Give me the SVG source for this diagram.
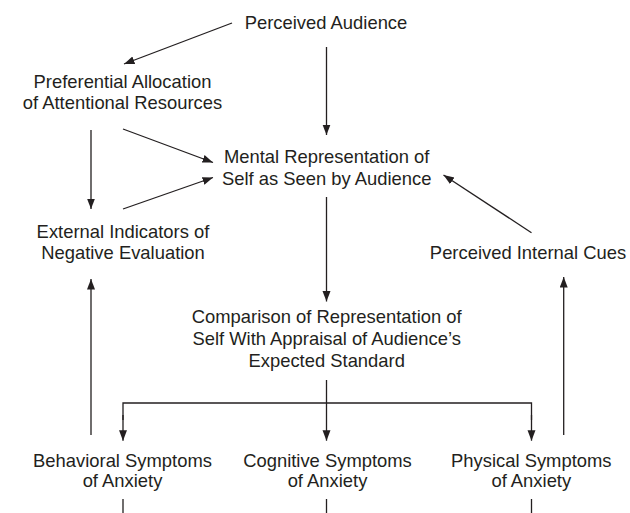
<svg xmlns="http://www.w3.org/2000/svg" width="630" height="513" viewBox="0 0 630 513">
<defs>
<marker id="ah" markerUnits="userSpaceOnUse" markerWidth="11" markerHeight="9" refX="10.5" refY="4" orient="auto">
<path d="M0,0 L10.5,4 L0,8 z" fill="#231f20"/>
</marker>
<style>
text{font-family:"Liberation Sans",Arial,sans-serif;font-size:18.4px;fill:#231f20;text-anchor:middle}
.c{stroke:#231f20;stroke-width:1.3;fill:none}
.a{marker-end:url(#ah)}
</style>
</defs>
<rect width="630" height="513" fill="#ffffff"/>
<g id="connectors">
<line class="c a" x1="232" y1="23" x2="124" y2="64"/>
<line class="c a" x1="326.5" y1="47" x2="326.5" y2="135"/>
<line class="c a" x1="91" y1="130" x2="91" y2="209"/>
<line class="c a" x1="123" y1="129" x2="213" y2="162.5"/>
<line class="c a" x1="123" y1="209" x2="213" y2="177.5"/>
<line class="c a" x1="531.5" y1="232.7" x2="443.5" y2="175"/>
<line class="c a" x1="326.5" y1="197" x2="326.5" y2="301.5"/>
<line class="c a" x1="91" y1="435" x2="91" y2="279"/>
<line class="c a" x1="563.7" y1="435" x2="563.7" y2="277"/>
<line class="c" x1="326.5" y1="380" x2="326.5" y2="403"/>
<polyline class="c" points="123,420 123,403 531.5,403 531.5,420"/>
<line class="c a" x1="123" y1="415" x2="123" y2="440.7"/>
<line class="c a" x1="326.5" y1="403" x2="326.5" y2="440.7"/>
<line class="c a" x1="531.5" y1="415" x2="531.5" y2="440.7"/>
<line class="c" x1="123" y1="499" x2="123" y2="513"/>
<line class="c" x1="326.5" y1="499" x2="326.5" y2="513"/>
<line class="c" x1="531.5" y1="499" x2="531.5" y2="513"/>
</g>
<g id="perceived-audience"><text x="326" y="28.5">Perceived Audience</text></g>
<g id="preferential-allocation"><text x="122.5" y="88">Preferential Allocation</text><text x="122.5" y="109">of Attentional Resources</text></g>
<g id="mental-representation"><text x="326.7" y="163">Mental Representation of</text><text x="326.7" y="184.5">Self as Seen by Audience</text></g>
<g id="external-indicators"><text x="123" y="238.3">External Indicators of</text><text x="123" y="259.3">Negative Evaluation</text></g>
<g id="perceived-internal-cues"><text x="528" y="259.3">Perceived Internal Cues</text></g>
<g id="comparison"><text x="326.7" y="323.3">Comparison of Representation of</text><text x="326.7" y="345">Self With Appraisal of Audience’s</text><text x="326.7" y="366.7">Expected Standard</text></g>
<g id="behavioral-symptoms"><text x="122.5" y="466.5">Behavioral Symptoms</text><text x="122.5" y="487">of Anxiety</text></g>
<g id="cognitive-symptoms"><text x="327.5" y="466.5">Cognitive Symptoms</text><text x="327.5" y="487">of Anxiety</text></g>
<g id="physical-symptoms"><text x="531.3" y="466.5">Physical Symptoms</text><text x="531.3" y="487">of Anxiety</text></g>
</svg>
